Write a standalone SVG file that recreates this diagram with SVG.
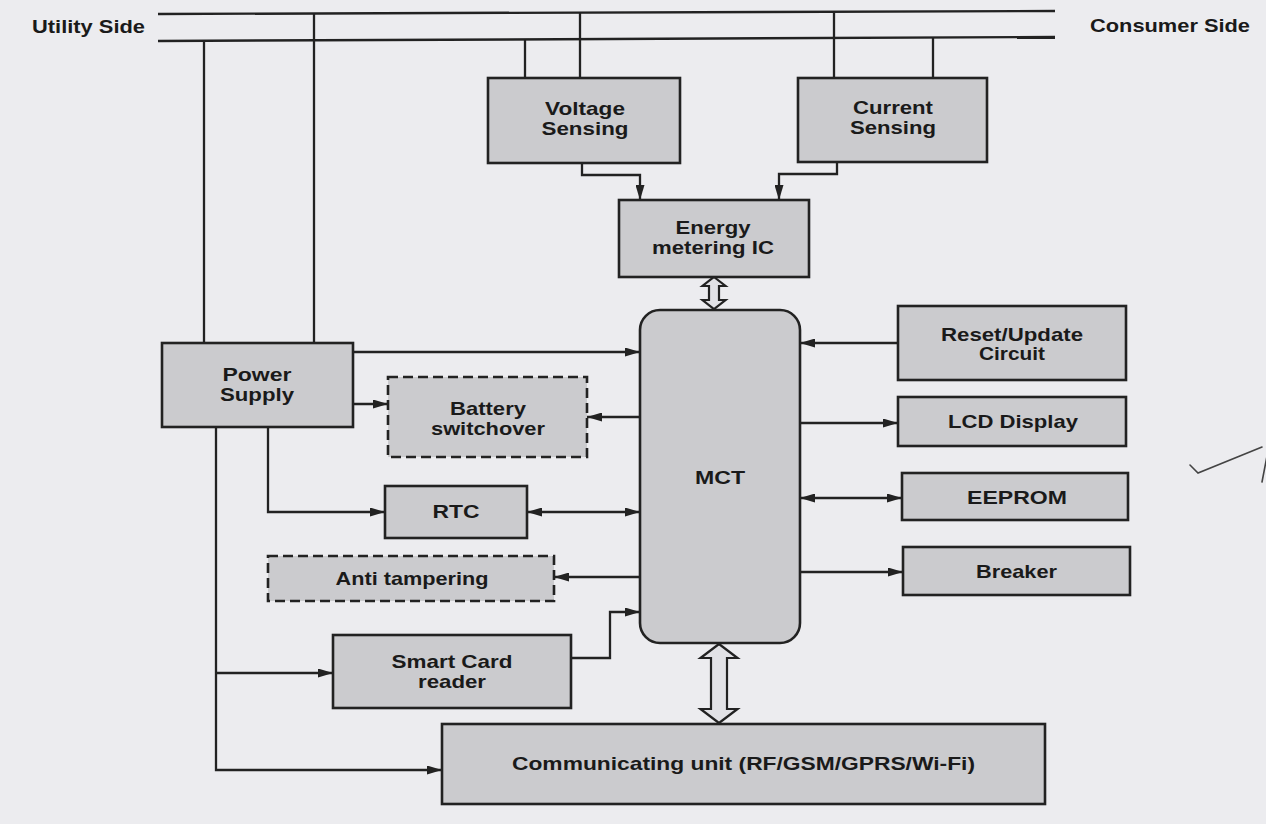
<svg xmlns="http://www.w3.org/2000/svg" width="1266" height="824" viewBox="0 0 1266 824">
<defs>
<marker id="arr" viewBox="0 0 15 9" refX="15" refY="4.5" markerWidth="15" markerHeight="9" markerUnits="userSpaceOnUse" orient="auto-start-reverse"><path d="M0,0 L15,4.5 L0,9 z" fill="#222"/></marker>
</defs>
<style>
.bg{fill:#ececef}
.box{fill:#cbcbce;stroke:#222;stroke-width:2.6}
.dash{stroke-dasharray:10 5}
.bus{stroke:#222;stroke-width:2.4;fill:none}
.ln{stroke:#222;stroke-width:2.3;fill:none}
.arr{marker-end:url(#arr)}
.dbl{marker-start:url(#arr);marker-end:url(#arr)}
.hollow{fill:#e2e2e6;stroke:#222;stroke-width:2.2;stroke-linejoin:miter}
.mark{stroke:#444;stroke-width:1.6;fill:none;stroke-linecap:round}
text{font-family:"Liberation Sans",Arial,Helvetica,sans-serif;font-weight:bold;font-size:19px;fill:#1a1a1a;text-anchor:middle}
text.side{text-anchor:start}
</style>
<rect class="bg" x="0" y="0" width="1266" height="824"/>

<g id="utility-side"><text class="side" x="32" y="33" textLength="113" lengthAdjust="spacingAndGlyphs">Utility Side</text></g>
<g id="consumer-side"><text class="side" x="1090" y="32" textLength="160" lengthAdjust="spacingAndGlyphs">Consumer Side</text></g>

<g id="connectors">
  <path class="bus" d="M158,14 L1055,11"/>
  <path class="bus" d="M158,41 L1055,37"/>
  <path class="ln" d="M204,41 V343"/>
  <path class="ln" d="M314,13.5 V343"/>
  <path class="ln" d="M525,39.4 V78"/>
  <path class="ln" d="M580,12.6 V78"/>
  <path class="ln" d="M834,11.7 V78"/>
  <path class="ln" d="M933,37.5 V78"/>
  <path class="ln arr" d="M582,163 V175 H640 V200"/>
  <path class="ln arr" d="M837,162 V174 H779 V200"/>
  <path class="hollow" d="M714,277 L725.5,286 L719,286 L719,300 L725.5,300 L714,309 L702.5,300 L709,300 L709,286 L702.5,286 Z"/>
  <path class="hollow" d="M719,644 L737.5,658 L727,658 L727,709 L737.5,709 L719,723 L700.5,709 L711,709 L711,658 L700.5,658 Z"/>
  <path class="ln arr" d="M353,352 H640"/>
  <path class="ln arr" d="M353,404 H388"/>
  <path class="ln arr" d="M640,417 H587"/>
  <path class="ln arr" d="M268,427 V512 H385"/>
  <path class="ln dbl" d="M527,512 H640"/>
  <path class="ln arr" d="M640,577 H554"/>
  <path class="ln arr" d="M216,427 V770 H442"/>
  <path class="ln arr" d="M216,673 H333"/>
  <path class="ln arr" d="M571,658 H610 V612 H640"/>
  <path class="ln arr" d="M898,343 H800"/>
  <path class="ln arr" d="M800,423 H898"/>
  <path class="ln dbl" d="M800,498 H902"/>
  <path class="ln arr" d="M800,572 H903"/>
</g>

<g id="voltage-sensing">
  <rect class="box" x="488" y="78" width="192" height="85"/>
  <text x="585" y="115" textLength="80" lengthAdjust="spacingAndGlyphs">Voltage</text>
  <text x="585" y="135" textLength="87" lengthAdjust="spacingAndGlyphs">Sensing</text>
</g>
<g id="current-sensing">
  <rect class="box" x="798" y="78" width="189" height="84"/>
  <text x="893" y="114" textLength="80" lengthAdjust="spacingAndGlyphs">Current</text>
  <text x="893" y="134" textLength="86" lengthAdjust="spacingAndGlyphs">Sensing</text>
</g>
<g id="energy-metering-ic">
  <rect class="box" x="619" y="200" width="190" height="77"/>
  <text x="713" y="234" textLength="75" lengthAdjust="spacingAndGlyphs">Energy</text>
  <text x="713" y="254" textLength="122" lengthAdjust="spacingAndGlyphs">metering IC</text>
</g>
<g id="mct">
  <rect class="box" x="640" y="310" width="160" height="333" rx="20" ry="20"/>
  <text x="720" y="484" textLength="50" lengthAdjust="spacingAndGlyphs">MCT</text>
</g>
<g id="power-supply">
  <rect class="box" x="162" y="343" width="191" height="84"/>
  <text x="257" y="381" textLength="69" lengthAdjust="spacingAndGlyphs">Power</text>
  <text x="257" y="401" textLength="74" lengthAdjust="spacingAndGlyphs">Supply</text>
</g>
<g id="battery-switchover">
  <rect class="box dash" x="388" y="377" width="199" height="80"/>
  <text x="488" y="415" textLength="76" lengthAdjust="spacingAndGlyphs">Battery</text>
  <text x="488" y="435" textLength="114" lengthAdjust="spacingAndGlyphs">switchover</text>
</g>
<g id="rtc">
  <rect class="box" x="385" y="486" width="142" height="52"/>
  <text x="456" y="518" textLength="47" lengthAdjust="spacingAndGlyphs">RTC</text>
</g>
<g id="anti-tampering">
  <rect class="box dash" x="268" y="556" width="286" height="45"/>
  <text x="412" y="585" textLength="153" lengthAdjust="spacingAndGlyphs">Anti tampering</text>
</g>
<g id="smart-card-reader">
  <rect class="box" x="333" y="635" width="238" height="73"/>
  <text x="452" y="668" textLength="121" lengthAdjust="spacingAndGlyphs">Smart Card</text>
  <text x="452" y="688" textLength="68" lengthAdjust="spacingAndGlyphs">reader</text>
</g>
<g id="communicating-unit">
  <rect class="box" x="442" y="724" width="603" height="80"/>
  <text x="743.5" y="770" textLength="463" lengthAdjust="spacingAndGlyphs">Communicating unit (RF/GSM/GPRS/Wi-Fi)</text>
</g>
<g id="reset-update-circuit">
  <rect class="box" x="898" y="306" width="228" height="74"/>
  <text x="1012" y="341" textLength="142" lengthAdjust="spacingAndGlyphs">Reset/Update</text>
  <text x="1012" y="360" textLength="66" lengthAdjust="spacingAndGlyphs">Circuit</text>
</g>
<g id="lcd-display">
  <rect class="box" x="898" y="397" width="228" height="49"/>
  <text x="1013" y="428" textLength="130" lengthAdjust="spacingAndGlyphs">LCD Display</text>
</g>
<g id="eeprom">
  <rect class="box" x="902" y="473" width="226" height="47"/>
  <text x="1017" y="504" textLength="100" lengthAdjust="spacingAndGlyphs">EEPROM</text>
</g>
<g id="breaker">
  <rect class="box" x="903" y="547" width="227" height="48"/>
  <text x="1016.5" y="578" textLength="81" lengthAdjust="spacingAndGlyphs">Breaker</text>
</g>

<path class="mark" d="M1190,465 L1198,473 L1262,447 M1262,482 L1267,456"/>
</svg>
